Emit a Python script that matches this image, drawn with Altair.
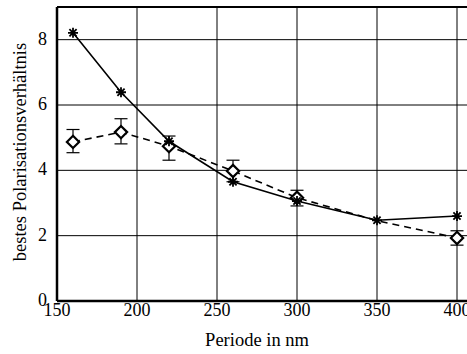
import altair as alt
import pandas as pd

# Measured polarisation ratios over grating period
period_star = [160, 190, 220, 260, 300, 350, 400]
ratio_star = [8.21, 6.39, 4.89, 3.65, 3.06, 2.47, 2.60]

period_diam = [160, 190, 220, 260, 300, 350, 400]
ratio_diam = [4.87, 5.17, 4.74, 3.98, 3.16, 2.46, 1.93]
err_low = [4.54, 4.81, 4.31, 3.65, 2.91, None, 1.71]
err_high = [5.25, 5.58, 5.05, 4.31, 3.39, None, 2.15]

x_ticks = [150, 200, 250, 300, 350, 400]
y_ticks = [0, 2, 4, 6, 8]

X_TITLE = "Periode in nm"
Y_TITLE = "bestes Polarisationsverhältnis"

W, H = 410, 294
FONT = "Liberation Serif"

stars = pd.DataFrame({"p": period_star, "r": ratio_star})
diams = pd.DataFrame({"p": period_diam, "r": ratio_diam, "lo": err_low, "hi": err_high})
xgrid = pd.DataFrame({"p": x_ticks, "lab": [str(v) for v in x_ticks]})
ygrid = pd.DataFrame({"r": y_ticks, "lab": [str(v) for v in y_ticks]})
single = pd.DataFrame({"k": [0]})  # one row for frame lines and titles

x_scale = alt.Scale(domain=[150, 406.25], nice=False, zero=False)
y_scale = alt.Scale(domain=[0, 9], nice=False)


def xe(field="p"):
    return alt.X(f"{field}:Q", scale=x_scale, axis=None)


def ye(field="r"):
    return alt.Y(f"{field}:Q", scale=y_scale, axis=None)


# grid lines at the tick positions
vgrid = alt.Chart(xgrid).mark_rule(color="black", strokeWidth=1).encode(x=xe())
hgrid = alt.Chart(ygrid).mark_rule(color="black", strokeWidth=1).encode(y=ye())

# axis lines (left and bottom) and top frame
left_axis = alt.Chart(single).mark_rule(color="black", strokeWidth=2.5).encode(
    x=alt.datum(150, scale=x_scale, axis=None))
bottom_axis = alt.Chart(single).mark_rule(color="black", strokeWidth=2.5).encode(
    y=alt.datum(0, scale=y_scale, axis=None))
top_border = alt.Chart(single).mark_rule(color="black", strokeWidth=2).encode(
    x=alt.value(0), x2=alt.value(W), y=alt.value(0))

# tick labels and axis titles
x_labels = alt.Chart(xgrid).mark_text(
    font=FONT, fontSize=18, fontWeight="normal", baseline="top", dy=1, color="black"
).encode(x=xe(), y=alt.value(H), text="lab:N")
y_labels = alt.Chart(ygrid).mark_text(
    font=FONT, fontSize=18, fontWeight="normal", align="right", baseline="middle",
    dx=-10, color="black"
).encode(y=ye(), x=alt.value(0), text="lab:N")
x_title = alt.Chart(single).mark_text(
    font=FONT, fontSize=18.5, fontWeight="normal", baseline="alphabetic",
    color="black", text=X_TITLE
).encode(x=alt.value(W / 2 - 5), y=alt.value(H + 45))
y_title = alt.Chart(single).mark_text(
    font=FONT, fontSize=18.5, fontWeight="normal", baseline="middle", angle=270,
    color="black", text=Y_TITLE
).encode(x=alt.value(-37), y=alt.value(H / 2 - 2))

asterisk = "M-1,0L1,0M0,-1L0,1M-0.72,-0.72L0.72,0.72M-0.72,0.72L0.72,-0.72"

star_line = alt.Chart(stars).mark_line(color="black", strokeWidth=1.6).encode(
    x=xe(), y=ye())
star_pts = alt.Chart(stars).mark_point(
    shape=asterisk, size=100, stroke="black", strokeWidth=1.8, filled=False, opacity=1
).encode(x=xe(), y=ye())

diam_line = alt.Chart(diams).mark_line(
    color="black", strokeWidth=1.6, strokeDash=[7, 5]
).encode(x=xe(), y=ye())

with_err = diams.dropna()
err_rule = alt.Chart(with_err).mark_rule(color="black", strokeWidth=1.2).encode(
    x=xe(), y=ye("lo"), y2="hi:Q")
cap_lo = alt.Chart(with_err).mark_tick(
    orient="horizontal", color="black", thickness=1.2, size=13, opacity=1
).encode(x=xe(), y=ye("lo"))
cap_hi = alt.Chart(with_err).mark_tick(
    orient="horizontal", color="black", thickness=1.2, size=13, opacity=1
).encode(x=xe(), y=ye("hi"))
diam_pts = alt.Chart(with_err).mark_point(
    shape="diamond", size=150, fill="white", stroke="black", strokeWidth=2.2,
    filled=True, opacity=1
).encode(x=xe(), y=ye())

chart = alt.layer(
    vgrid, hgrid, left_axis, bottom_axis, top_border,
    star_line, diam_line, err_rule, cap_lo, cap_hi, diam_pts, star_pts,
    x_labels, y_labels, x_title, y_title,
).properties(
    width=W, height=H,
    autosize=alt.AutoSizeParams(type="none"),
    padding={"left": 57, "top": 7, "right": 0, "bottom": 53},
    background="white",
).configure_view(stroke=None, clip=False)

chart.save("out.html", embed_options={"renderer": "svg", "actions": False})
